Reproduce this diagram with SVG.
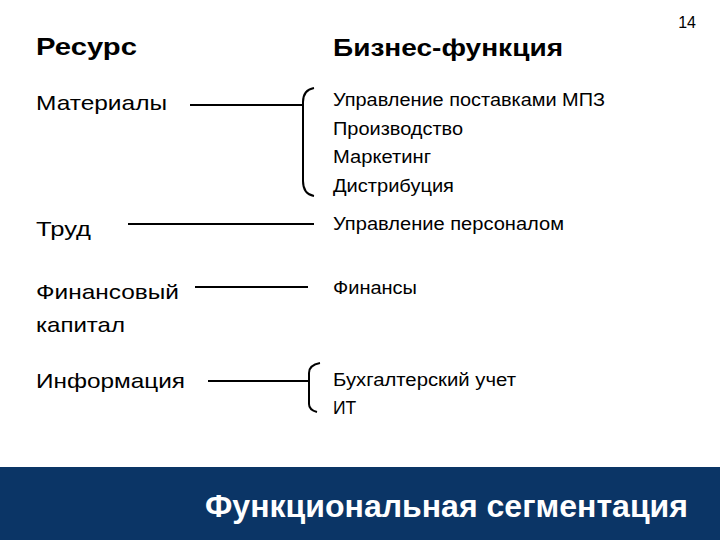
<svg xmlns="http://www.w3.org/2000/svg" width="720" height="540" viewBox="0 0 720 540">
<style>
text{font-family:"Liberation Sans",Arial,sans-serif;fill:#000}
.h{font-size:24px;font-weight:bold}
.l{font-size:21px}
.r{font-size:17.5px}
.c{fill:none;stroke:#000;stroke-width:2}
</style>
<rect width="720" height="540" fill="#fff"/>
<text x="696" y="28" font-size="16" text-anchor="end">14</text>
<g id="headers"><text class="h" x="36" y="55" textLength="101" lengthAdjust="spacingAndGlyphs">Ресурс</text><text class="h" x="333" y="56" textLength="230" lengthAdjust="spacingAndGlyphs">Бизнес-функция</text></g>
<g id="n1"><text class="l" x="36" y="110" textLength="131" lengthAdjust="spacingAndGlyphs">Материалы</text></g>
<g id="n2"><text class="l" x="36" y="236" textLength="55" lengthAdjust="spacingAndGlyphs">Труд</text></g>
<g id="n3"><text class="l" x="36" y="299" textLength="143" lengthAdjust="spacingAndGlyphs">Финансовый</text><text class="l" x="36" y="332" textLength="89" lengthAdjust="spacingAndGlyphs">капитал</text></g>
<g id="n4"><text class="l" x="36" y="388" textLength="149" lengthAdjust="spacingAndGlyphs">Информация</text></g>
<g id="f1"><text class="r" x="333" y="106" textLength="272" lengthAdjust="spacingAndGlyphs">Управление поставками МПЗ</text><text class="r" x="333" y="135" textLength="130" lengthAdjust="spacingAndGlyphs">Производство</text><text class="r" x="333" y="163" textLength="98" lengthAdjust="spacingAndGlyphs">Маркетинг</text><text class="r" x="333" y="192" textLength="121" lengthAdjust="spacingAndGlyphs">Дистрибуция</text></g>
<g id="f2"><text class="r" x="333" y="230" textLength="231" lengthAdjust="spacingAndGlyphs">Управление персоналом</text></g>
<g id="f3"><text class="r" x="333" y="294" textLength="84" lengthAdjust="spacingAndGlyphs">Финансы</text></g>
<g id="f4"><text class="r" x="333" y="386" textLength="183" lengthAdjust="spacingAndGlyphs">Бухгалтерский учет</text><text class="r" x="333" y="414">ИТ</text></g>
<g id="connectors">
<line class="c" x1="190" y1="105" x2="302" y2="105"/>
<path class="c" d="M314 88 Q303 90 303 102 V181 Q303 194 314 196"/>
<line class="c" x1="128" y1="224" x2="314" y2="224" stroke-width="3"/>
<line class="c" x1="195" y1="287" x2="308" y2="287"/>
<line class="c" x1="208" y1="381" x2="308" y2="381"/>
<path class="c" d="M320 363 Q309 365 309 373 V404 Q309 410 317 412"/>
</g>
<rect x="0" y="467" width="720" height="73" fill="#0b3566"/>
<text x="205" y="517" font-size="31" font-weight="bold" style="fill:#fff" textLength="483" lengthAdjust="spacingAndGlyphs">Функциональная сегментация</text>
</svg>
